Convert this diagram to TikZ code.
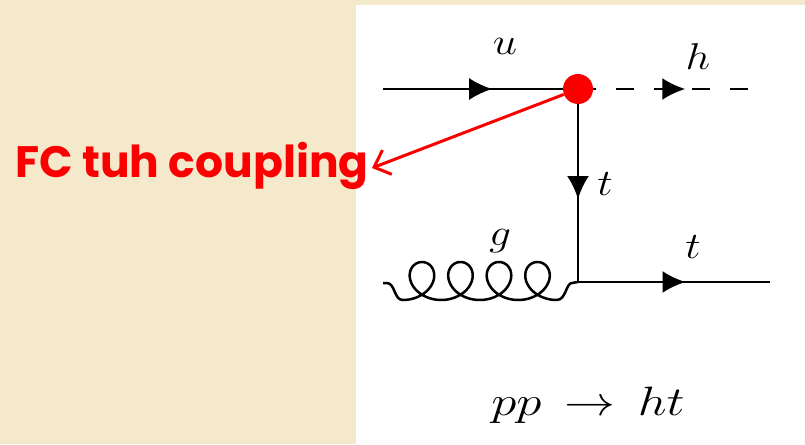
\documentclass[tikz,border=0pt]{standalone}
\usepackage{fontspec}
\usepackage{graphicx}
\newfontfamily\labfont{Poppins}
\usetikzlibrary{decorations.markings,arrows.meta}
\definecolor{parch}{RGB}{245,233,204}
\definecolor{myred}{RGB}{250,0,0}
\newcommand{\mylab}[1]{\scalebox{1.75}[1.5]{$#1$}}
\newcommand{\mybig}[1]{\scalebox{2.05}[1.65]{$#1$}}
\tikzset{
  fermion/.style={line width=2.5pt,postaction={decorate},
    decoration={markings,mark=at position #1 with {\arrow{Latex[length=23pt,width=22pt]}}}},
  scalar/.style={line width=2.5pt,dash pattern=on 18pt off 20pt,postaction={decorate},
    decoration={markings,mark=at position #1 with {\arrow{Latex[length=23pt,width=22pt]}}}},
  gluon/.style={line width=2.5pt,line join=round},
  lab/.style={font=\fontsize{24.88}{30}\selectfont},
}
\begin{document}
\begin{tikzpicture}[x=1pt,y=-1pt]
\fill[parch] (0,0) rectangle (805,444);
\fill[white] (356,5) rectangle (805,444);
\useasboundingbox (0,0) rectangle (805,444);
\coordinate (a) at (383,89);
\coordinate (v) at (578,89);
\coordinate (hend) at (751,89);
\coordinate (b) at (578,282);
\coordinate (g0) at (383,283);
\coordinate (tend) at (770,282);
\draw[fermion=0.56] (a) -- (v);
\draw[scalar=0.62] (v) -- (hend);
\draw[fermion=0.57] (v) -- (b);
\draw[gluon] (g0) -- (387,283) .. controls (395,283) and (394,300) .. (402.7,300)
  -- plot[domain=0:8*pi,samples=320] ({402.7+6.13*\x+21*sin(\x r)},{281+19*cos(\x r)})
  .. controls (566,300) and (566,283) .. (572,283) -- (b);
\draw[fermion=0.56] (b) -- (tend);
\node[lab] (lu) at (505,46) {\mylab{u}};
\node[lab] (lh) at (698,57) {\mylab{h}};
\node[lab] (lt1) at (605,184) {\mylab{t}};
\node[lab] (lg) at (500,241) {\mylab{g}};
\node[lab] (lt2) at (693,247) {\mylab{t}};
\node[lab] (lp) at (588,405) {\mybig{pp\,\rightarrow\,ht}};
\node[circle,fill=myred,inner sep=0pt,minimum size=30pt] (dot) at (v) {};
\node[text=myred,font=\labfont\bfseries\fontsize{44}{48}\selectfont,anchor=west] (fc) at (12,166) {FC tuh coupling};
\coordinate (tip) at (372,168);
\draw[myred,line width=3pt,-{Straight Barb[length=14pt,width=26pt]}] (dot) -- (tip);
\end{tikzpicture}
\end{document}
